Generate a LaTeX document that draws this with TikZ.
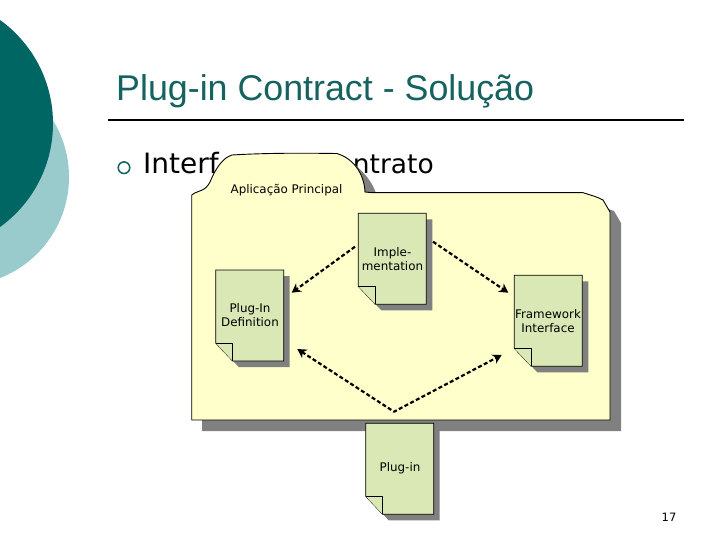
\documentclass[tikz,border=0pt]{standalone}
\usepackage{fontspec}
\setmainfont{DejaVu Sans}
\newfontfamily\titlefont{Liberation Sans}
\usetikzlibrary{arrows.meta}
\definecolor{tealdark}{HTML}{006664}
\definecolor{teallight}{HTML}{99CBCD}
\definecolor{titleteal}{HTML}{14635F}
\definecolor{folderfill}{HTML}{FFFFCC}
\definecolor{docfill}{HTML}{D9E8B5}
\definecolor{shadowgray}{HTML}{808080}
\tikzset{
  doc/.style={draw=black,line width=0.8pt,fill=docfill},
  docshadow/.style={fill=shadowgray,draw=none},
  lbl/.style={font=\fontsize{11.9}{14}\selectfont,align=center,text=black,inner sep=0pt},
  link/.style={line width=2.2pt,dash pattern=on 4pt off 2.4pt,-{Stealth[length=9pt,width=10pt]}},
  biglink/.style={line width=2.2pt,dash pattern=on 4pt off 2.4pt,{Stealth[length=9pt,width=10pt]}-{Stealth[length=9pt,width=10pt]}},
}
\newcommand{\docshape}[2]{% x, y top
  \fill[docshadow] (#1+6,#2+6) -- (#1+74,#2+6) -- (#1+74,#2+97) -- (#1+23,#2+97) -- (#1+6,#2+79) -- cycle;
  \draw[doc] (#1,#2) -- (#1+68,#2) -- (#1+68,#2+91) -- (#1+17,#2+91) -- (#1,#2+73) -- cycle;
  \draw[doc] (#1,#2+73) -- (#1+17,#2+73) -- (#1+17,#2+91);
}
\begin{document}
\begin{tikzpicture}[x=1pt,y=-1pt]
\useasboundingbox (0,0) rectangle (720,540);
\fill[white] (0,0) rectangle (720,540);
% background circles
\begin{scope}
  \clip (0,0) rectangle (720,540);
  \fill[teallight] (-39.4,177) circle[radius=108.4];
  \fill[tealdark] (-74.6,123.5) circle[radius=127.6];
\end{scope}
% title
\node[anchor=base west,inner sep=0pt,text=titleteal,font=\titlefont\fontsize{35.8}{40}\selectfont] (title) at (116,101) {Plug-in Contract - Solução};
\coordinate (ruleL) at (108,120);
\coordinate (ruleR) at (684,120);
\draw[line width=1.8pt] (ruleL) -- (ruleR);
\draw[titleteal,line width=1.5pt] (124,167.7) circle[radius=5.8];
\node[anchor=base west,inner sep=0pt,font=\fontsize{28}{32}\selectfont] (bodyA) at (143,174) {Interf};
\node[anchor=base east,inner sep=0pt,font=\fontsize{26.5}{32}\selectfont] (bodyB) at (434,174) {ntrato};
% folder shadow
\fill[shadowgray] (202,206) -- (355,165) .. controls (364,172) and (372,182) .. (375.5,192)
  -- (594,204) -- (614,211) -- (621,223) -- (621,431) -- (202,431) -- cycle;
% folder
\draw[fill=folderfill,line width=0.9pt] (191.7,195)
  .. controls (198,190) and (205,192) .. (210,182)
  .. controls (215,170) and (222,158) .. (232,155)
  .. controls (265,153) and (300,153) .. (337,153.5)
  .. controls (352,158) and (364,172) .. (365,192)
  -- (372,192.7) -- (583,192.7)
  .. controls (590,195) and (598,197) .. (603,200)
  -- (610,212) -- (610,420) -- (191.7,420) -- cycle;
\node[lbl] (app) at (286.5,190.5) {Aplicação Principal};
% documents
\docshape{358.3}{213.3}
\docshape{215.7}{270}
\docshape{514.3}{275.3}
\docshape{365.7}{423.3}
\node[lbl] (impl) at (392.5,259.5) {Imple-\\mentation};
\node[lbl] (plugdef) at (250,315.5) {Plug-In\\Definition};
\node[lbl] (fw) at (548,321.5) {Framework\\Interface};
\node[lbl] (plugin) at (400,468.5) {Plug-in};
% connectors
\coordinate (a1) at (355,246.7);
\coordinate (a2) at (291.7,292.7);
\coordinate (b1) at (433,241.7);
\coordinate (b2) at (508.3,292.7);
\coordinate (c1) at (297.3,349);
\coordinate (c2) at (394,411.7);
\coordinate (c3) at (501.7,355);
\draw[link] (a1) -- (a2);
\draw[link] (b1) -- (b2);
\draw[biglink,line join=round] (c1) -- (c2) -- (c3);
\node[anchor=base,inner sep=0pt,font=\fontsize{11.5}{14}\selectfont] (page) at (669,521.5) {17};
\end{tikzpicture}
\end{document}
